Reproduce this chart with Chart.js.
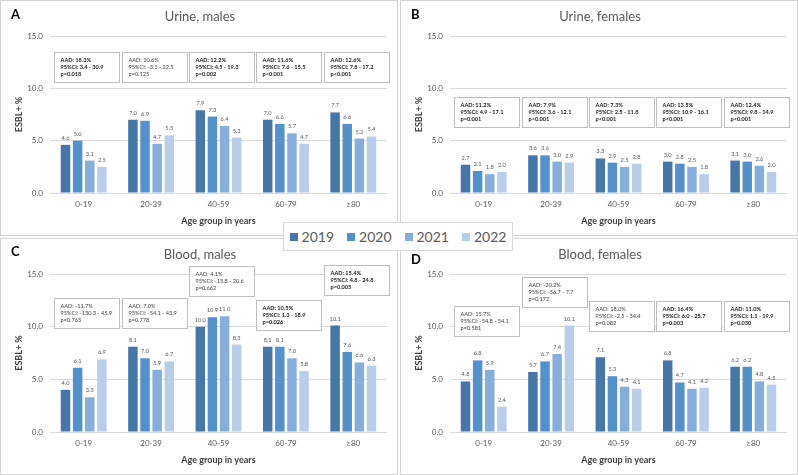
<!DOCTYPE html>
<html><head><meta charset="utf-8">
<script src="https://cdn.jsdelivr.net/npm/chart.js@4.4.0/dist/chart.umd.min.js"></script>
<style>
body{margin:0;background:#fff;width:798px;height:475px;position:relative;overflow:hidden;font-family:Lato,"Open Sans",sans-serif}
.wrap{position:absolute}
.wrap canvas{position:absolute;left:0;top:0}
.frame{position:absolute;border:1px solid #d4d4d4;box-sizing:border-box;pointer-events:none}
#legend{position:absolute;left:283px;top:222px;width:230px;height:29px;box-sizing:border-box;border:1px solid #d9d9d9;background:#fff;display:flex;align-items:center;justify-content:center;gap:13px;font-size:14px;color:#595959;z-index:5}
#legend span.sq{display:inline-block;width:8px;height:8px;margin-right:4px;vertical-align:1px}
</style></head><body>
<div id="legend"></div>
<script>
const categories = ['0-19','20-39','40-59','60-79','\u226580'];
const years = ['2019','2020','2021','2022'];
const tickValues = [0, 5, 10, 15];

// A: Urine, males
const urineM2019 = [4.6, 7.0, 7.9, 7.0, 7.7];
const urineM2020 = [5.0, 6.9, 7.3, 6.6, 6.6];
const urineM2021 = [3.1, 4.7, 6.4, 5.7, 5.2];
const urineM2022 = [2.5, 5.5, 5.3, 4.7, 5.4];
const urineM_aad = ['18.3%','10.6%','12.2%','11.6%','12.6%'];
const urineM_ci  = ['3.4 - 30.9','-3.1 - 22.5','4.5 - 19.3','7.6 - 15.5','7.8 - 17.2'];
const urineM_p   = ['p=0.018','p=0.125','p=0.002','p<0.001','p<0.001'];

// B: Urine, females
const urineF2019 = [2.7, 3.6, 3.3, 3.0, 3.1];
const urineF2020 = [2.1, 3.6, 2.9, 2.8, 3.0];
const urineF2021 = [1.8, 3.0, 2.5, 2.5, 2.6];
const urineF2022 = [2.0, 2.9, 2.8, 1.8, 2.0];
const urineF_aad = ['11.2%','7.9%','7.3%','13.5%','12.4%'];
const urineF_ci  = ['4.9 - 17.1','3.6 - 12.1','2.5 - 11.8','10.9 - 16.1','9.8 - 14.9'];
const urineF_p   = ['p=0.001','p<0.001','p<0.001','p<0.001','p<0.001'];

// C: Blood, males
const bloodM2019 = [4.0, 8.1, 10.0, 8.1, 10.1];
const bloodM2020 = [6.1, 7.0, 10.9, 8.1, 7.6];
const bloodM2021 = [3.3, 5.9, 11.0, 7.0, 6.6];
const bloodM2022 = [6.9, 6.7, 8.3, 5.8, 6.3];
const bloodM_aad = ['-11.7%','7.0%','4.1%','10.5%','15.4%'];
const bloodM_ci  = ['-130.3 - 45.9','-54.1 - 43.9','-15.8 - 20.6','1.3 - 18.9','4.8 - 24.8'];
const bloodM_p   = ['p=0.765','p=0.778','p=0.662','p=0.026','p=0.005'];

// D: Blood, females
const bloodF2019 = [4.8, 5.7, 7.1, 6.8, 6.2];
const bloodF2020 = [6.8, 6.7, 5.3, 4.7, 6.2];
const bloodF2021 = [5.9, 7.4, 4.3, 4.1, 4.8];
const bloodF2022 = [2.4, 10.1, 4.1, 4.2, 4.5];
const bloodF_aad = ['15.7%','-20.2%','18.0%','16.4%','11.0%'];
const bloodF_ci  = ['-54.8 - 54.1','-56.7 - 7.7','-2.5 - 34.4','6.0 - 25.7','1.1 - 19.9'];
const bloodF_p   = ['p=0.581','p=0.172','p=0.082','p=0.003','p=0.030'];

const FONT = 'Lato, "Open Sans", sans-serif';
const colors = ['#4675A8','#5490CB','#87ADDC','#B8CDEA'];

// layout (positions of panels and annotation boxes, box tops in axis units)
const panels = [
  {letter:'A', title:'Urine, males', left:0, top:0, h:236, letterY:15,
   series:[urineM2019,urineM2020,urineM2021,urineM2022], aad:urineM_aad, ci:urineM_ci, p:urineM_p,
   boxTop:[13.5,13.5,13.5,13.5,13.5]},
  {letter:'B', title:'Urine, females', left:400, top:0, h:236, letterY:15,
   series:[urineF2019,urineF2020,urineF2021,urineF2022], aad:urineF_aad, ci:urineF_ci, p:urineF_p,
   boxTop:[9.2,9.2,9.2,9.2,9.2]},
  {letter:'C', title:'Blood, males', left:0, top:238, h:237, letterY:14,
   series:[bloodM2019,bloodM2020,bloodM2021,bloodM2022], aad:bloodM_aad, ci:bloodM_ci, p:bloodM_p,
   boxTop:[12.7,12.7,15.75,12.5,15.85]},
  {letter:'D', title:'Blood, females', left:400, top:238, h:237, letterY:22,
   series:[bloodF2019,bloodF2020,bloodF2021,bloodF2022], aad:bloodF_aad, ci:bloodF_ci, p:bloodF_p,
   boxTop:[11.95,14.7,12.45,12.45,12.45]}
];

// legend
const lg = document.getElementById('legend');
years.forEach((y,i)=>{
  const it = document.createElement('span');
  it.innerHTML = '<span class="sq" style="background:'+colors[i]+'"></span>'+y;
  lg.appendChild(it);
});

function makePlugin(panel){
  return {
    id:'decor'+panel.letter,
    beforeDatasetsDraw(chart){
      const ctx = chart.ctx, xs = chart.scales.x, ys = chart.scales.y;
      ctx.save();
      panel.aad.forEach((a,i)=>{
        const cx = xs.getPixelForValue(i) + 3;
        const bx = Math.round(cx - 32.5) + 0.5;
        const by = Math.round(ys.getPixelForValue(panel.boxTop[i])) + 0.5;
        ctx.fillStyle = '#fff';
        ctx.fillRect(bx, by, 65, 30);
        ctx.strokeStyle = '#bfbfbf';
        ctx.lineWidth = 1;
        ctx.strokeRect(bx, by, 65, 30);
        const pv = parseFloat(panel.p[i].replace(/[^0-9.]/g,''));
        const bold = pv < 0.05;
        ctx.font = (bold ? 'bold ' : '') + '5.6px ' + FONT;
        ctx.fillStyle = bold ? '#1a1a1a' : '#404040';
        ctx.textAlign = 'left';
        ctx.textBaseline = 'middle';
        const lines = ['AAD: ' + a, '95%CI: ' + panel.ci[i], panel.p[i]];
        lines.forEach((t,k)=> ctx.fillText(t, bx + 6, by + 7.5 + k*7));
      });
      ctx.restore();
    },
    afterDatasetsDraw(chart){
      const ctx = chart.ctx;
      ctx.save();
      ctx.font = '5.7px ' + FONT;
      ctx.fillStyle = '#595959';
      ctx.textAlign = 'center';
      ctx.textBaseline = 'bottom';
      chart.data.datasets.forEach((ds, di)=>{
        const meta = chart.getDatasetMeta(di);
        meta.data.forEach((bar, j)=>{
          ctx.fillText(ds.data[j].toFixed(1), bar.x, bar.y - 4);
        });
      });
      ctx.restore();
    },
    afterDraw(chart){
      const ctx = chart.ctx;
      ctx.save();
      ctx.font = '13px ' + FONT;
      ctx.fillStyle = '#595959';
      ctx.textAlign = 'center';
      ctx.textBaseline = 'middle';
      ctx.fillText(panel.title, chart.width/2 + 1, 17);
      ctx.font = 'bold 13px ' + FONT;
      ctx.fillStyle = '#000';
      ctx.textAlign = 'left';
      ctx.fillText(panel.letter, 11, panel.letterY);
      ctx.restore();
    }
  };
}

panels.forEach(panel=>{
  const wrap = document.createElement('div');
  wrap.className = 'wrap';
  wrap.style.left = panel.left + 'px';
  wrap.style.top = panel.top + 'px';
  wrap.style.width = '398px';
  wrap.style.height = panel.h + 'px';
  const cv = document.createElement('canvas');
  cv.width = 398; cv.height = panel.h;
  wrap.appendChild(cv);
  document.body.appendChild(wrap);
  const fr = document.createElement('div');
  fr.className = 'frame';
  fr.style.left = panel.left + 'px';
  fr.style.top = panel.top + 'px';
  fr.style.width = '398px';
  fr.style.height = panel.h + 'px';
  document.body.appendChild(fr);

  new Chart(cv.getContext('2d'), {
    type:'bar',
    data:{
      labels: categories,
      datasets: years.map((y,i)=>({
        label:y, data:panel.series[i], backgroundColor:colors[i],
        categoryPercentage:0.72, barPercentage:0.78
      }))
    },
    options:{
      responsive:false, animation:false, devicePixelRatio:1,
      layout:{padding:{top:36, right:11, left:0, bottom:0}},
      plugins:{legend:{display:false}, title:{display:false}, tooltip:{enabled:false}},
      scales:{
        x:{
          grid:{display:false, drawTicks:false}, border:{display:false},
          ticks:{color:'#595959', font:{size:8, family:FONT}, padding:7},
          title:{display:true, text:'Age group in years', color:'#404040', font:{size:9, weight:'bold', family:FONT}, padding:{top:0, bottom:10}},
          afterFit(s){ s.height = 43; }
        },
        y:{
          min:0, max:15,
          afterBuildTicks(s){ s.ticks = tickValues.map(v=>({value:v})); },
          ticks:{color:'#595959', font:{size:8, family:FONT}, padding:7, callback:v=>Number(v).toFixed(1)},
          grid:{color:'#d9d9d9', drawTicks:false}, border:{display:false},
          title:{display:true, text:'ESBL+ %', color:'#404040', font:{size:9, weight:'bold', family:FONT}, padding:{top:14, bottom:0}},
          afterFit(s){ s.width = 50; }
        }
      }
    },
    plugins:[makePlugin(panel)]
  });
});
</script>
</body></html>
